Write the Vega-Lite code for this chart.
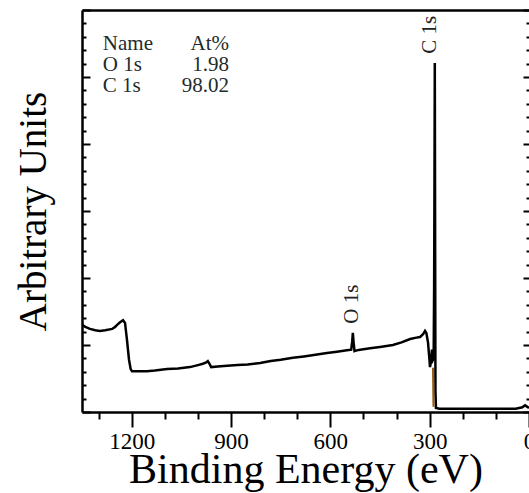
{
  "$schema": "https://vega.github.io/schema/vega-lite/v6.json",
  "width": 447,
  "height": 402,
  "autosize": {"type": "none"},
  "padding": {"left": 82, "top": 10, "right": 0, "bottom": 81},
  "background": "white",
  "config": {
    "view": {"stroke": null},
    "font": "Liberation Serif",
    "axis": {"domainColor": "black", "domainWidth": 2.5, "tickColor": "black", "tickWidth": 2, "grid": false, "labelFont": "Liberation Serif", "titleFont": "Liberation Serif", "titleFontWeight": "normal", "labelColor": "black", "titleColor": "black"}
  },
  "datasets": {
    "spectrum": [
      {"E":1350,"I":1.30},{"E":1340,"I":1.27},{"E":1326,"I":1.24},{"E":1310,"I":1.22},{"E":1296,"I":1.21},{"E":1280,"I":1.22},{"E":1259,"I":1.24},{"E":1250,"I":1.27},{"E":1244,"I":1.30},{"E":1235,"I":1.34},{"E":1226,"I":1.37},{"E":1220,"I":1.33},{"E":1214,"I":1.07},{"E":1208,"I":0.78},{"E":1203,"I":0.64},{"E":1199,"I":0.61},{"E":1180,"I":0.61},{"E":1154,"I":0.61},{"E":1130,"I":0.62},{"E":1093,"I":0.64},{"E":1060,"I":0.65},{"E":1024,"I":0.67},{"E":1000,"I":0.70},{"E":985,"I":0.72},{"E":975,"I":0.74},{"E":970,"I":0.76},{"E":965,"I":0.72},{"E":960,"I":0.67},{"E":940,"I":0.68},{"E":912,"I":0.69},{"E":880,"I":0.70},{"E":850,"I":0.71},{"E":812,"I":0.73},{"E":780,"I":0.76},{"E":750,"I":0.78},{"E":713,"I":0.81},{"E":680,"I":0.83},{"E":650,"I":0.85},{"E":610,"I":0.88},{"E":580,"I":0.90},{"E":550,"I":0.92},{"E":537,"I":0.93},{"E":534,"I":1.05},{"E":532,"I":1.18},{"E":530,"I":1.05},{"E":527,"I":0.91},{"E":520,"I":0.92},{"E":510,"I":0.93},{"E":480,"I":0.95},{"E":450,"I":0.97},{"E":411,"I":1.00},{"E":385,"I":1.04},{"E":359,"I":1.09},{"E":340,"I":1.11},{"E":329,"I":1.12},{"E":320,"I":1.16},{"E":314,"I":1.21},{"E":310,"I":1.18},{"E":305,"I":1.04},{"E":301,"I":0.80},{"E":299,"I":0.67},{"E":296,"I":0.75},{"E":293,"I":0.93},{"E":290,"I":0.78},{"E":288,"I":0.80},{"E":286.5,"I":1.9},{"E":285.5,"I":3.4},{"E":284.5,"I":5.21},{"E":283.5,"I":2.6},{"E":282.5,"I":0.3},{"E":281,"I":0.06},{"E":270,"I":0.05},{"E":200,"I":0.05},{"E":100,"I":0.05},{"E":40,"I":0.05},{"E":20,"I":0.07},{"E":12,"I":0.10},{"E":6,"I":0.08},{"E":0,"I":0.06}
    ],
    "fit": [{"E":290,"I":0.66},{"E":288.5,"I":0.08}],
    "tableLeft": [{"E":1287,"I":5.40,"t":"Name"},{"E":1287,"I":5.09,"t":"O 1s"},{"E":1287,"I":4.78,"t":"C 1s"}],
    "tableRight": [{"E":906,"I":5.40,"t":"At%"},{"E":906,"I":5.09,"t":"1.98"},{"E":906,"I":4.78,"t":"98.02"}],
    "peaks": [{"E":299,"I":5.63,"t":"C 1s"},{"E":535,"I":1.61,"t":"O 1s"}]
  },
  "resolve": {"axis": {"x": "independent", "y": "independent"}},
  "layer": [
    {
      "data": {"name": "spectrum"},
      "mark": {"type": "line", "color": "black", "strokeWidth": 2.5, "clip": true},
      "encoding": {
        "x": {"field": "E", "type": "quantitative", "scale": {"domain": [1350, 0], "nice": false, "zero": false},
          "axis": {"orient": "bottom", "values": [0,100,200,300,400,500,600,700,800,900,1000,1100,1200,1300], "format": "d",
            "labelExpr": "datum.value % 300 === 0 ? datum.label : ''",
            "tickSize": {"condition": {"test": "datum.value % 300 === 0", "value": 15}, "value": 7},
            "labelFontSize": 23, "labelPadding": 3, "labelFlush": false, "labelOverlap": false,
            "title": "Binding Energy (eV)", "titleFontSize": 42, "titleBaseline": "alphabetic", "titleY": 70}},
        "y": {"field": "I", "type": "quantitative", "scale": {"domain": [0, 6], "nice": false, "zero": false},
          "axis": {"orient": "left", "values": [0,0.2,0.4,0.6,0.8,1,1.2,1.4,1.6,1.8,2,2.2,2.4,2.6,2.8,3,3.2,3.4,3.6,3.8,4,4.2,4.4,4.6,4.8,5,5.2,5.4,5.6,5.8,6],
            "labels": false,
            "tickSize": {"condition": {"test": "datum.value % 1 === 0", "value": -8}, "value": -4},
            "title": "Arbitrary Units", "titleFontSize": 39, "titleBaseline": "alphabetic", "titleX": -37, "titleAngle": -90}}
      }
    },
    {
      "data": {"name": "fit"},
      "mark": {"type": "line", "color": "#9a5b13", "strokeWidth": 2},
      "encoding": {
        "x": {"field": "E", "type": "quantitative", "axis": {"orient": "top", "ticks": false, "labels": false, "title": null, "domainWidth": 2.5}},
        "y": {"field": "I", "type": "quantitative", "axis": {"orient": "right", "domain": false, "labels": false, "title": null,
          "values": [0,0.2,0.4,0.6,0.8,1,1.2,1.4,1.6,1.8,2,2.2,2.4,2.6,2.8,3,3.2,3.4,3.6,3.8,4,4.2,4.4,4.6,4.8,5,5.2,5.4,5.6,5.8,6],
          "tickSize": {"condition": {"test": "datum.value % 1 === 0", "value": -6}, "value": -3}}}
      }
    },
    {
      "data": {"name": "tableLeft"},
      "mark": {"type": "text", "align": "left", "baseline": "alphabetic", "fontSize": 21, "font": "Liberation Serif", "color": "#1e2c2c"},
      "encoding": {
        "x": {"field": "E", "type": "quantitative", "axis": null},
        "y": {"field": "I", "type": "quantitative", "axis": null},
        "text": {"field": "t"}
      }
    },
    {
      "data": {"name": "tableRight"},
      "mark": {"type": "text", "align": "right", "baseline": "alphabetic", "fontSize": 21, "font": "Liberation Serif", "color": "#1e2c2c"},
      "encoding": {
        "x": {"field": "E", "type": "quantitative", "axis": null},
        "y": {"field": "I", "type": "quantitative", "axis": null},
        "text": {"field": "t"}
      }
    },
    {
      "data": {"name": "peaks"},
      "mark": {"type": "text", "align": "center", "baseline": "middle", "angle": 270, "fontSize": 21, "font": "Liberation Serif", "color": "#222222"},
      "encoding": {
        "x": {"field": "E", "type": "quantitative", "axis": null},
        "y": {"field": "I", "type": "quantitative", "axis": null},
        "text": {"field": "t"}
      }
    }
  ]
}
